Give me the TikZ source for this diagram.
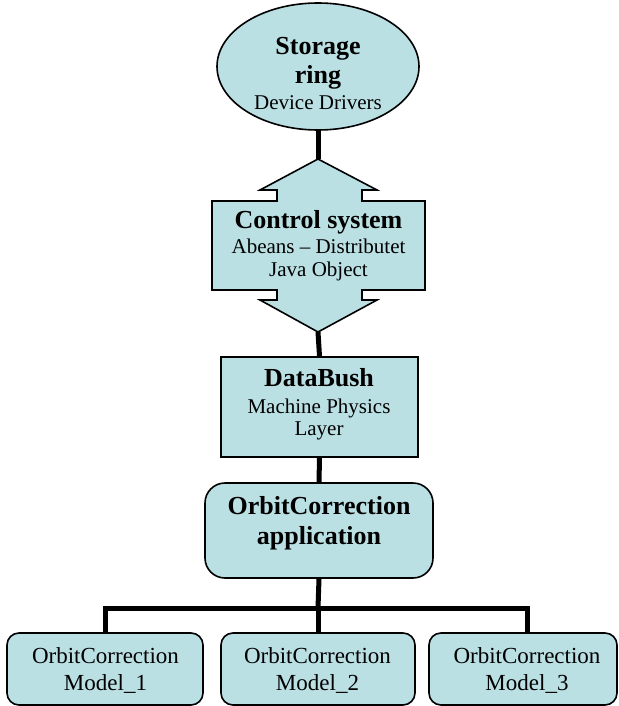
\documentclass[tikz,border=0pt]{standalone}
\usepackage{fontspec}
\setmainfont{Liberation Serif}
\usetikzlibrary{shapes.geometric}
\definecolor{boxfill}{RGB}{186,224,228}
\begin{document}
\begin{tikzpicture}[x=1pt,y=-1pt,
  shapebox/.style={draw=black, line width=1.6pt, fill=boxfill, inner sep=0pt},
  link/.style={line width=5pt, line join=miter},
  boldtxt/.style={font=\fontsize{26}{28}\selectfont\bfseries, anchor=base, inner sep=0pt},
  regtxt/.style={font=\fontsize{21}{24}\selectfont, anchor=base, inner sep=0pt},
  modtxt/.style={font=\fontsize{23}{26}\selectfont, anchor=base, inner sep=0pt}]
\useasboundingbox (0,0) rectangle (618,706);

% connectors (drawn first, shapes cover ends)
\coordinate (ctrltop) at (318,159);
\coordinate (ctrlbot) at (318,332);
\coordinate (bus) at (318,608);

% shapes
\node[shapebox, ellipse, minimum width=202pt, minimum height=127pt] (ring) at (318,66.5) {};
\node[shapebox, rectangle, minimum width=197pt, minimum height=100pt] (data) at (319.5,407) {};
\node[shapebox, rectangle, rounded corners=20pt, minimum width=228pt, minimum height=95pt] (app) at (319,530.5) {};
\node[shapebox, rectangle, rounded corners=12pt, minimum width=196pt, minimum height=72pt] (m1) at (105,669) {};
\node[shapebox, rectangle, rounded corners=12pt, minimum width=194pt, minimum height=72pt] (m2) at (318,669) {};
\node[shapebox, rectangle, rounded corners=12pt, minimum width=188pt, minimum height=72pt] (m3) at (523,669) {};

\draw[shapebox] (ctrltop) -- (377,190) -- (362,190) -- (362,201) -- (425,201) -- (425,290)
  -- (362,290) -- (362,300) -- (377,300) -- (ctrlbot) -- (260,300) -- (277,300)
  -- (277,290) -- (212,290) -- (212,201) -- (277,201) -- (277,190) -- (260,190) -- cycle;

\draw[link] (ring.south) -- (ctrltop);
\draw[link] (ctrlbot) -- (data.north);
\draw[link] (data.south) -- (app.north);
\draw[link] (app.south) -- (bus);
\draw[link] (m1.north) |- (bus) -| ([xshift=4pt]m3.north);
\draw[link] (bus) -- (m2.north);

% texts
\node[boldtxt] (t1) at (318,55) {Storage};
\node[boldtxt] (t2) at (318,84) {ring};
\node[regtxt] (t3) at (318,110) {Device Drivers};
\node[boldtxt] (t4) at (318.5,228) {Control system};
\node[regtxt] (t5) at (318.5,253) {Abeans – Distributet};
\node[regtxt] (t6) at (318.5,276) {Java Object};
\node[boldtxt] (t7) at (319,386) {DataBush};
\node[regtxt] (t8) at (319,413) {Machine Physics};
\node[regtxt] (t9) at (319,435) {Layer};
\node[boldtxt] (t10) at (319,514) {OrbitCorrection};
\node[boldtxt] (t11) at (319,544) {application};
\node[modtxt] (t12) at (105.5,663) {OrbitCorrection};
\node[modtxt] (t13) at (105.5,690) {Model\_1};
\node[modtxt] (t14) at (317.5,663) {OrbitCorrection};
\node[modtxt] (t15) at (317.5,690) {Model\_2};
\node[modtxt] (t16) at (527,663) {OrbitCorrection};
\node[modtxt] (t17) at (527,690) {Model\_3};
\end{tikzpicture}
\end{document}
